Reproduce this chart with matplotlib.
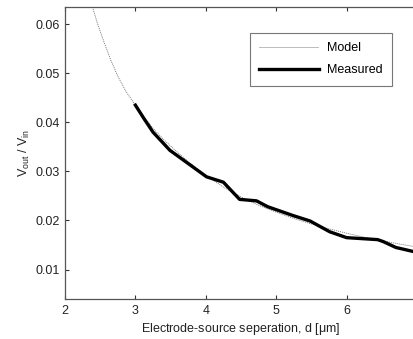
import numpy as np
import matplotlib
matplotlib.use('Agg')
import matplotlib.pyplot as plt

plt.rcParams['font.family'] = ['Liberation Sans', 'DejaVu Sans']
plt.rcParams['mathtext.fontset'] = 'custom'
plt.rcParams['mathtext.rm'] = 'Liberation Sans'
plt.rcParams['mathtext.it'] = 'Liberation Sans'

# model curve
model_d = [2.39, 2.46, 2.55, 2.65, 2.75, 2.87, 3.0, 3.12, 3.25, 3.4, 3.55, 3.75, 4.0,
           4.25, 4.5, 4.75, 5.0, 5.25, 5.5, 5.75, 6.0, 6.25, 6.5, 6.75, 7.0]
model_v = [0.0635, 0.0602, 0.0565, 0.0527, 0.0494, 0.0462, 0.0435, 0.0411, 0.0388, 0.0365,
           0.0345, 0.0320, 0.0292, 0.0268, 0.0248, 0.0231, 0.0217, 0.0204, 0.0193, 0.0183,
           0.0174, 0.0166, 0.0159, 0.0152, 0.0146]

# measured curve
meas_d = [3.0, 3.12, 3.25, 3.49, 3.75, 4.01, 4.25, 4.48, 4.72, 4.88, 5.24, 5.48,
          5.76, 6.0, 6.44, 6.52, 6.7, 6.94, 7.0]
meas_v = [0.0435, 0.0408, 0.0380, 0.0343, 0.0316, 0.0289, 0.0278, 0.0243, 0.0240,
          0.0228, 0.0210, 0.0199, 0.0177, 0.0165, 0.0161, 0.0157, 0.0145, 0.0137, 0.0135]

x_ticks = [2, 3, 4, 5, 6, 7]
x_labels = ['2', '3', '4', '5', '6', '']  # the 7 falls off the right edge
y_ticks = [0.01, 0.02, 0.03, 0.04, 0.05, 0.06]

fig = plt.figure(figsize=(4.14, 3.39), dpi=100)
ax = fig.add_axes([65/414, 1-299/339, (417-65)/414, (299-7)/339])

ax.plot(model_d, model_v, color='#666666', lw=0.6, ls=(0, (1.2, 1.2)), label='Model')
ax.plot(meas_d, meas_v, color='black', lw=2.4, label='Measured', solid_joinstyle='round')

ax.set_xlim(2, 7)
ax.set_ylim(0.004, 0.0635)
ax.set_xticks(x_ticks)
ax.set_xticklabels(x_labels)
ax.set_yticks(y_ticks)
ax.set_yticklabels(['%.2f' % v for v in y_ticks])
ax.tick_params(direction='in', top=True, right=True, length=3, width=0.8,
               labelsize=9, colors='#333333', labelcolor='#222222', pad=4)
for s in ax.spines.values():
    s.set_color('#555555')
    s.set_linewidth(0.9)

ax.set_xlabel(r'Electrode-source seperation, d [$\mu$m]', fontsize=9, color='#222222', labelpad=3)
ax.set_ylabel(r'V$_{\mathrm{out}}$ / V$_{\mathrm{in}}$', fontsize=9, color='#222222', labelpad=2)

leg = ax.legend(loc='upper right', bbox_to_anchor=((392 - 65)/352, 1 - 26/292),
                fontsize=9, frameon=True, fancybox=False, handlelength=4.8,
                borderpad=0.75, labelspacing=0.8, handletextpad=0.6, borderaxespad=0)
leg.get_frame().set_edgecolor('#555555')
leg.get_frame().set_linewidth(0.8)

fig.savefig('out.png', dpi=100)
